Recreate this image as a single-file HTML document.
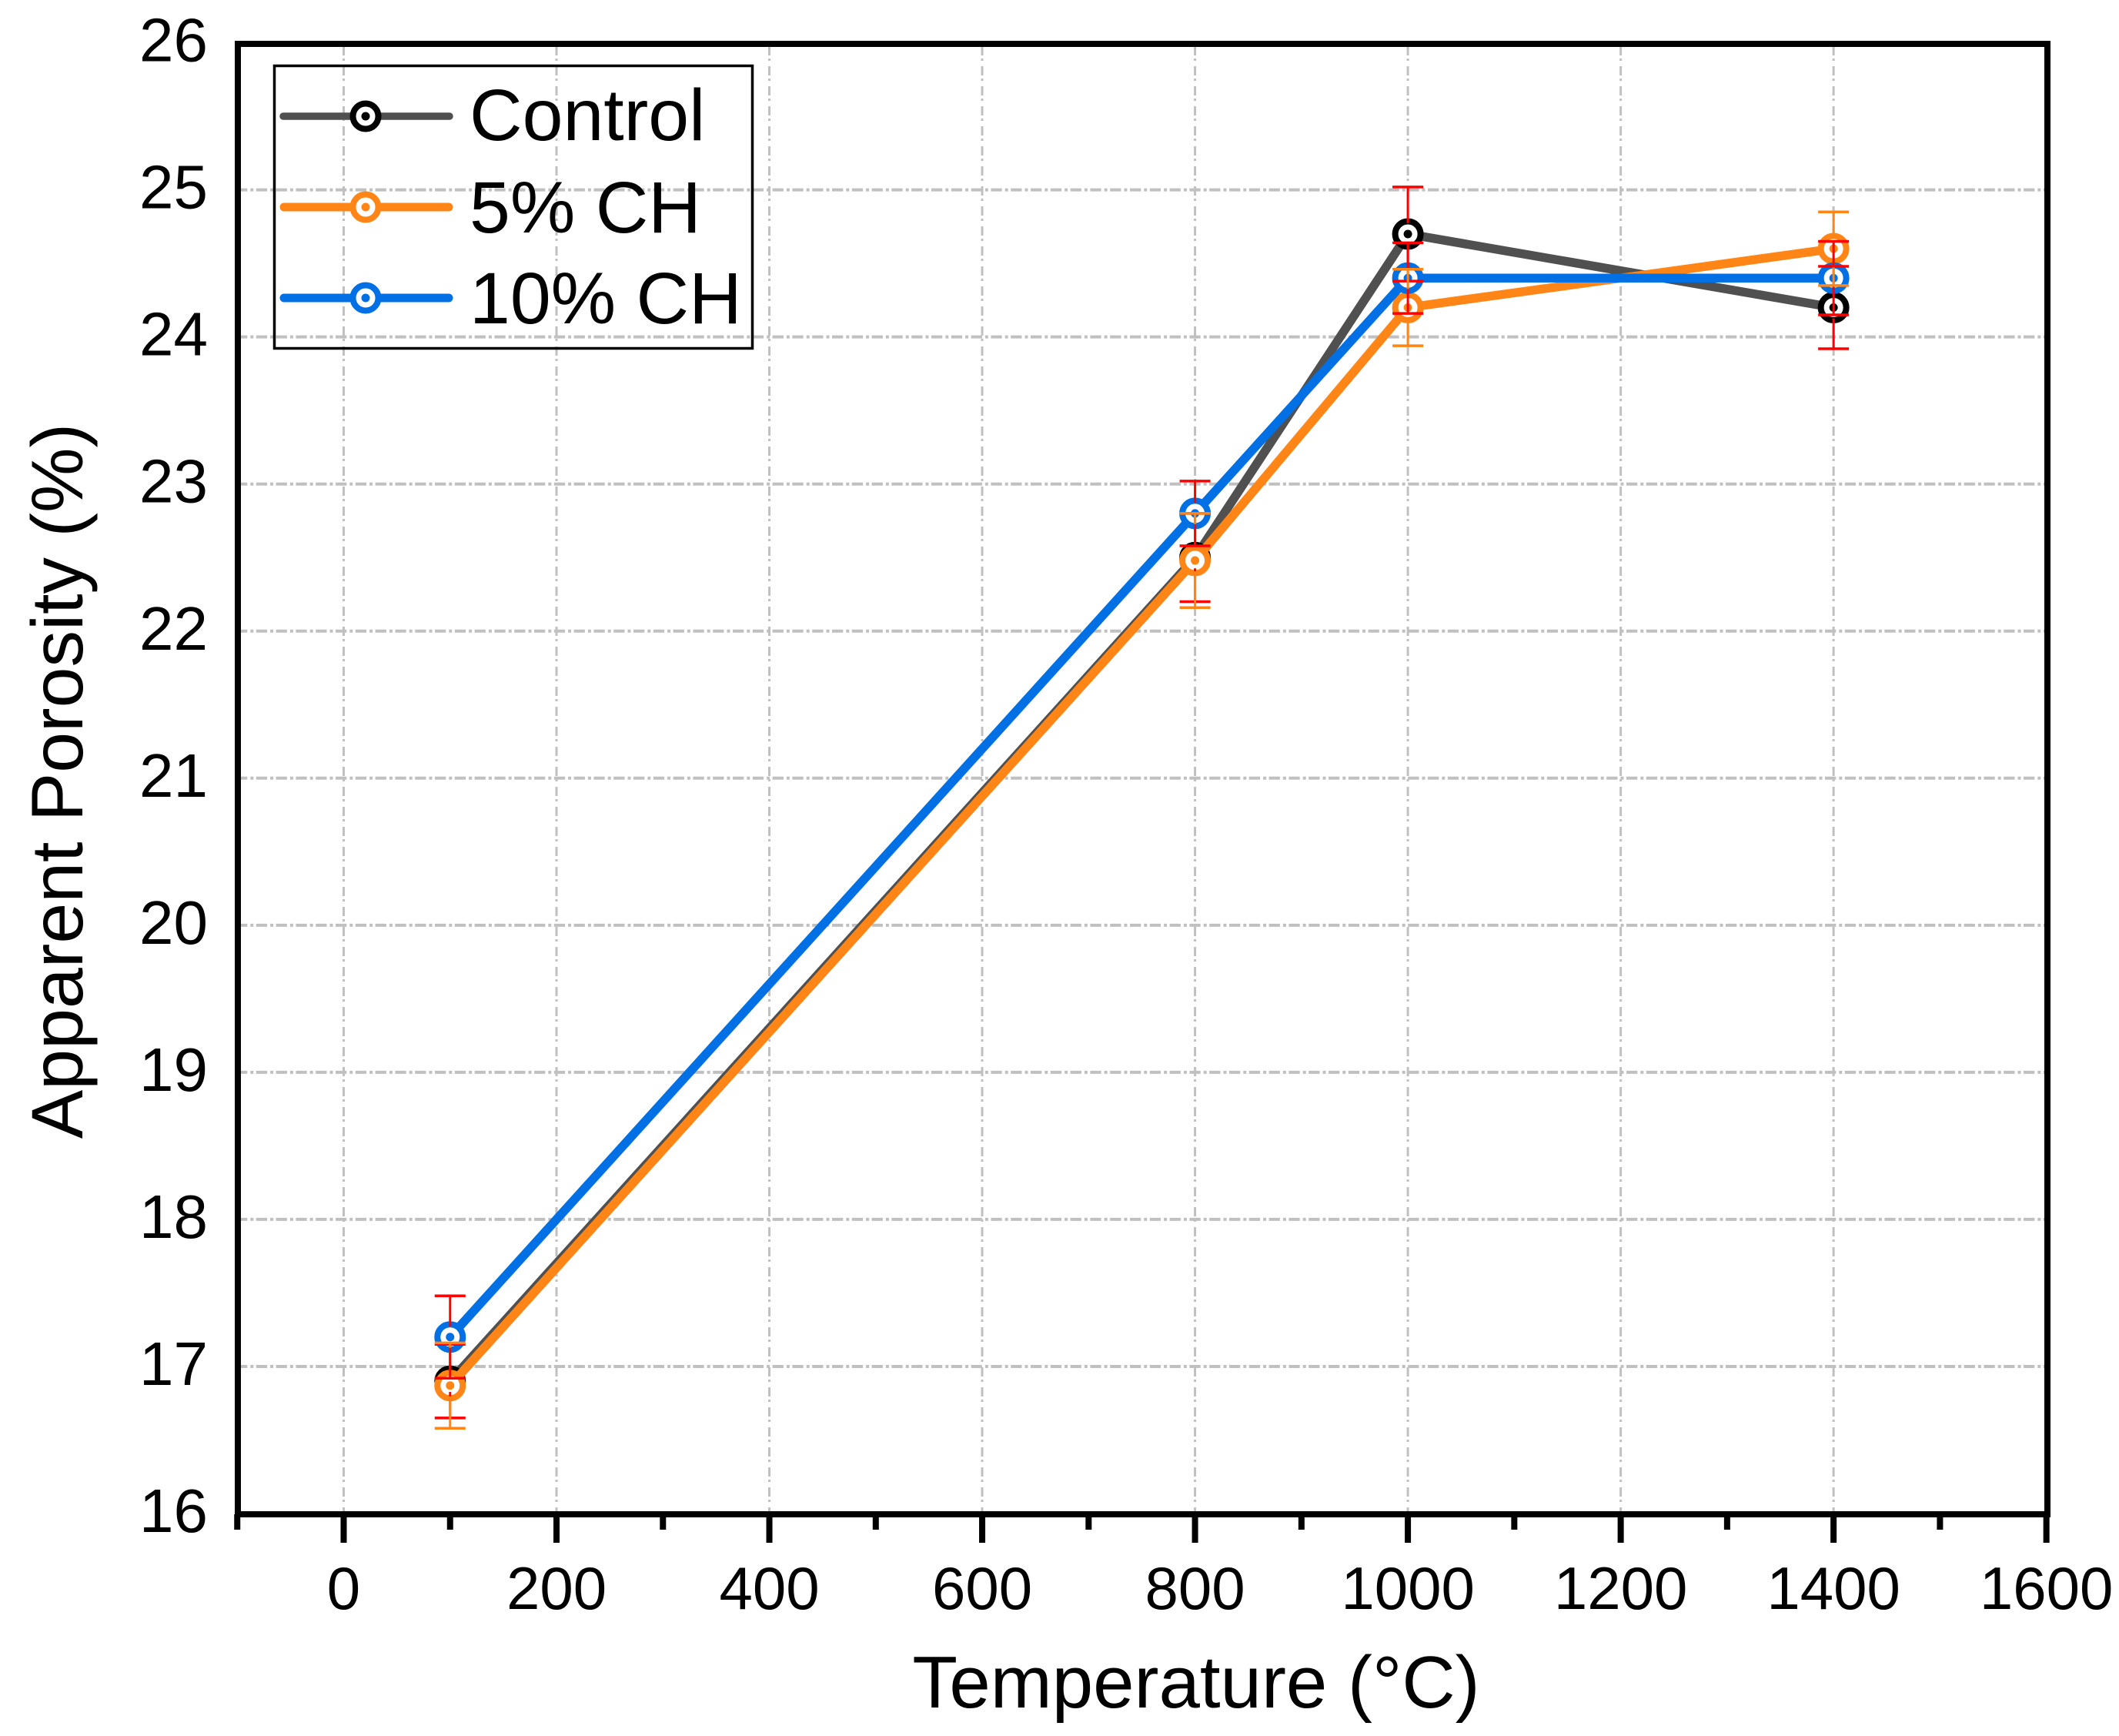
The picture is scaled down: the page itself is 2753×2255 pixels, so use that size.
<!DOCTYPE html>
<html lang="en">
<head>
<meta charset="utf-8">
<title>Apparent Porosity vs Temperature</title>
<style>
  html, body { margin: 0; padding: 0; background: #fff; }
  body { width: 2753px; height: 2255px; overflow: hidden; }
  svg { display: block; }
  text { font-family: "Liberation Sans", Arial, sans-serif; fill: #000; }
</style>
</head>
<body>
<svg id="chart" xmlns="http://www.w3.org/2000/svg" width="2753" height="2255" viewBox="0 0 2753 2255">
  <rect x="0" y="0" width="2753" height="2255" fill="#ffffff"/>
  <g id="grid"></g>
  <g id="series"></g>
  <g id="errors"></g>
  <rect x="309" y="57" width="2351" height="1910" fill="none" stroke="#000" stroke-width="8"/>
  <g id="xaxis"></g>
  <g id="yaxis"></g>
  <text x="1554" y="2218" font-size="96" text-anchor="middle">Temperature (°C)</text>
  <text transform="translate(107 1014.5) rotate(-90)" font-size="95" text-anchor="middle">Apparent Porosity (%)</text>
  <g>
    <rect x="356.5" y="85.5" width="621" height="367" fill="none" stroke="#000" stroke-width="3.5"/>
    <g>
      <line x1="368" y1="151" x2="584" y2="151" stroke="#505050" stroke-width="9.5" stroke-linecap="round"/>
      <circle cx="475" cy="151" r="16.5" fill="#fff" stroke="#000" stroke-width="8"/>
      <circle cx="475" cy="151" r="5.5" fill="#000"/>
      <text x="610" y="182" font-size="95">Control</text>
    </g>
    <g>
      <line x1="369" y1="269" x2="583" y2="269" stroke="#ff8516" stroke-width="11" stroke-linecap="round"/>
      <circle cx="475" cy="269" r="16.5" fill="#fff" stroke="#ff8516" stroke-width="8"/>
      <circle cx="475" cy="269" r="5.5" fill="#ff8516"/>
      <text x="610" y="302" font-size="95">5% CH</text>
    </g>
    <g>
      <line x1="369" y1="387" x2="583" y2="387" stroke="#0070e4" stroke-width="11" stroke-linecap="round"/>
      <circle cx="475" cy="387" r="16.5" fill="#fff" stroke="#0070e4" stroke-width="8"/>
      <circle cx="475" cy="387" r="5.5" fill="#0070e4"/>
      <text x="610" y="420" font-size="95">10% CH</text>
    </g>
  </g>
</svg>
<script>
// Chart data
const temperatures = [100, 800, 1000, 1400];
const controlValues = [16.9, 22.5, 24.7, 24.2];
const controlErrors = [0.25, 0.30, 0.32, 0.28];
const ch5Values = [16.87, 22.48, 24.2, 24.6];
const ch5Errors = [0.29, 0.32, 0.26, 0.25];
const ch10Values = [17.2, 22.8, 24.4, 24.4];
const ch10Errors = [0.28, 0.22, 0.24, 0.25];
const xMajorTicks = [0, 200, 400, 600, 800, 1000, 1200, 1400, 1600];
const xMinorTicks = [-100, 100, 300, 500, 700, 900, 1100, 1300, 1500];
const yMajorTicks = [16, 17, 18, 19, 20, 21, 22, 23, 24, 25, 26];

// Axis functions
const xScale = v => 446.5 + 1.3826 * v;
const yScale = v => 1966 - 191.04 * (v - 16);

const SVGNS = 'http://www.w3.org/2000/svg';
function mk(tag, parent, props) {
  const node = document.createElementNS(SVGNS, tag);
  for (const k in props) node.setAttribute(k, props[k]);
  parent.appendChild(node);
  return node;
}

const gridG = document.getElementById('grid');
const seriesG = document.getElementById('series');
const errorsG = document.getElementById('errors');
const xAxisG = document.getElementById('xaxis');
const yAxisG = document.getElementById('yaxis');

// Grid
yMajorTicks.slice(1, -1).forEach(v => {
  const el = mk('line', gridG, { x1: 307, x2: 2656, y1: yScale(v), y2: yScale(v), stroke: '#c0c0c0', 'stroke-width': 4, 'stroke-dasharray': '14.3 4 4 3.5' });
  
  
});
xMajorTicks.slice(0, -1).forEach(v => {
  const el = mk('line', gridG, { x1: xScale(v), x2: xScale(v), y1: 60, y2: 1963, stroke: '#c0c0c0', 'stroke-width': 3, 'stroke-dasharray': '12 4 3 7' });
  
  
});

// X axis
xMajorTicks.forEach(v => {
  const tick = mk('line', xAxisG, { x1: xScale(v), x2: xScale(v), y1: 1967, y2: 2004, stroke: '#000', 'stroke-width': 8 });
  
  
  const label = mk('text', xAxisG, { x: xScale(v), y: 2090, 'font-size': 78, 'text-anchor': 'middle' });
  
  
  label.textContent = String(v);
});
xMinorTicks.forEach(v => {
  const tick = mk('line', xAxisG, { x1: xScale(v), x2: xScale(v), y1: 1967, y2: 1987, stroke: '#000', 'stroke-width': 8 });
  
  
});

// Y axis labels
yMajorTicks.forEach(v => {
  const label = mk('text', yAxisG, { x: 270, y: yScale(v) + 24, 'font-size': 80, 'text-anchor': 'end' });
  
  
  label.textContent = String(v);
});

// Series lines + markers
function drawSeries(values, color, markerColor, key) {
  const pts = temperatures.map((t, i) => xScale(t) + ',' + yScale(values[i])).join(' ');
  const line = mk('polyline', seriesG, { points: pts, fill: 'none', stroke: color, 'stroke-width': 11.5, 'stroke-linejoin': 'miter' });
  
  
  temperatures.forEach((t, i) => {
    const ring = mk('circle', seriesG, { cx: xScale(t), cy: yScale(values[i]), r: 16.5, fill: '#fff', stroke: markerColor, 'stroke-width': 8 });
    
    
    const dot = mk('circle', seriesG, { cx: xScale(t), cy: yScale(values[i]), r: 5.5, fill: markerColor });
    
    
  });
}
drawSeries(controlValues, '#505050', '#000000', 'control');
drawSeries(ch5Values, '#ff8516', '#ff8516', '5-ch');
drawSeries(ch10Values, '#0070e4', '#0070e4', '10-ch');

// Error bars (stems stop short of their own marker)
function drawErrors(values, errors, color, key) {
  temperatures.forEach((t, i) => {
    const cx = xScale(t);
    const cy = yScale(values[i]);
    const top = yScale(values[i] + errors[i]);
    const bottom = yScale(values[i] - errors[i]);
    const upper = mk('line', errorsG, { x1: cx, x2: cx, y1: top, y2: cy - 14, stroke: color, 'stroke-width': 3 });
    
    
    const lower = mk('line', errorsG, { x1: cx, x2: cx, y1: cy + 14, y2: bottom, stroke: color, 'stroke-width': 3 });
    
    
    const capTop = mk('line', errorsG, { x1: cx - 20, x2: cx + 20, y1: top, y2: top, stroke: color, 'stroke-width': 3.5 });
    
    
    const capBottom = mk('line', errorsG, { x1: cx - 20, x2: cx + 20, y1: bottom, y2: bottom, stroke: color, 'stroke-width': 3.5 });
    
    
  });
}
drawErrors(controlValues, controlErrors, '#ff0000', 'control');
drawErrors(ch5Values, ch5Errors, '#ff8516', '5-ch');
drawErrors(ch10Values, ch10Errors, '#ff0000', '10-ch');
</script>
</body>
</html>
